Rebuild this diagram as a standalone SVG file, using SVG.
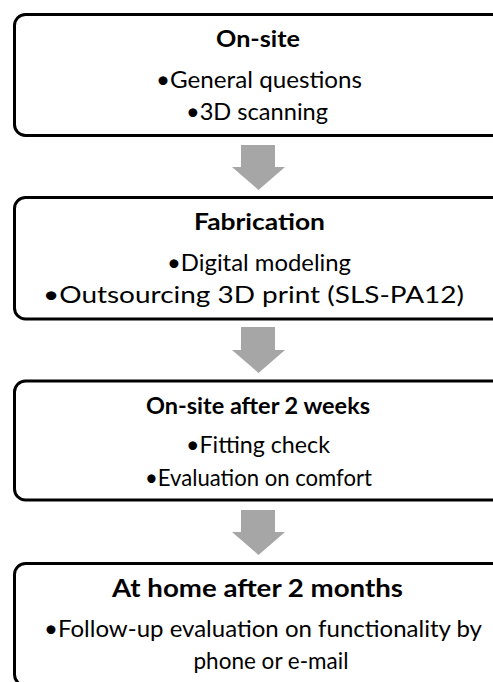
<svg xmlns="http://www.w3.org/2000/svg" width="493" height="682" viewBox="0 0 493 682">
  <style>
    .box { fill: #ffffff; stroke: #000000; stroke-width: 3; }
    .arrow { fill: #a6a6a6; stroke: none; }
    text { font-family: Lato, "Open Sans", "Liberation Sans", sans-serif; fill: #000000; text-anchor: middle; }
    .title { font-size: 23.5px; font-weight: bold; }
    .item { font-size: 23.5px; }
  </style>
  <rect width="493" height="682" fill="#ffffff"/>

  <!-- step arrows between boxes -->
  <g id="connectors">
    <polygon class="arrow" points="241,145 275,145 275,167 285,167 258.5,190 232,167 241,167"/>
    <polygon class="arrow" points="241,327 275,327 275,350 285,350 258.5,373 232,350 241,350"/>
    <polygon class="arrow" points="241,510 275,510 275,532 285,532 258.5,555 232,532 241,532"/>
  </g>

  <g id="onsite">
    <rect class="box" x="14.5" y="14.5" width="488" height="121" rx="11"/>
    <text class="title" x="258" y="47" textLength="84" lengthAdjust="spacingAndGlyphs">On-site</text>
    <text class="item" x="259" y="87.5" textLength="206" lengthAdjust="spacingAndGlyphs">•General questions</text>
    <text class="item" x="257" y="119.5" textLength="142" lengthAdjust="spacingAndGlyphs">•3D scanning</text>
  </g>

  <g id="fabrication">
    <rect class="box" x="14.5" y="197.5" width="488" height="121.5" rx="11"/>
    <text class="title" x="259.5" y="230" textLength="131" lengthAdjust="spacingAndGlyphs">Fabrication</text>
    <text class="item" x="259" y="271" textLength="184" lengthAdjust="spacingAndGlyphs">•Digital modeling</text>
    <text class="item" x="253.5" y="303" textLength="421" lengthAdjust="spacingAndGlyphs">•Outsourcing 3D print (SLS-PA12)</text>
  </g>

  <g id="onsite-2weeks">
    <rect class="box" x="14.5" y="381" width="488" height="119" rx="11"/>
    <text class="title" x="258" y="413.5" textLength="224" lengthAdjust="spacingAndGlyphs">On-site after 2 weeks</text>
    <text class="item" x="258" y="453" textLength="144" lengthAdjust="spacingAndGlyphs">•Fitting check</text>
    <text class="item" x="258.5" y="486" textLength="227" lengthAdjust="spacingAndGlyphs">•Evaluation on comfort</text>
  </g>

  <g id="home-2months">
    <rect class="box" x="14.5" y="563.5" width="488" height="122" rx="11"/>
    <text class="title" x="257.5" y="597" textLength="291" lengthAdjust="spacingAndGlyphs" style="font-size:25px">At home after 2 months</text>
    <text class="item" x="263" y="637" textLength="438" lengthAdjust="spacingAndGlyphs">•Follow-up evaluation on functionality by</text>
    <text class="item" x="271" y="668.5" textLength="155" lengthAdjust="spacingAndGlyphs">phone or e-mail</text>
  </g>
</svg>
